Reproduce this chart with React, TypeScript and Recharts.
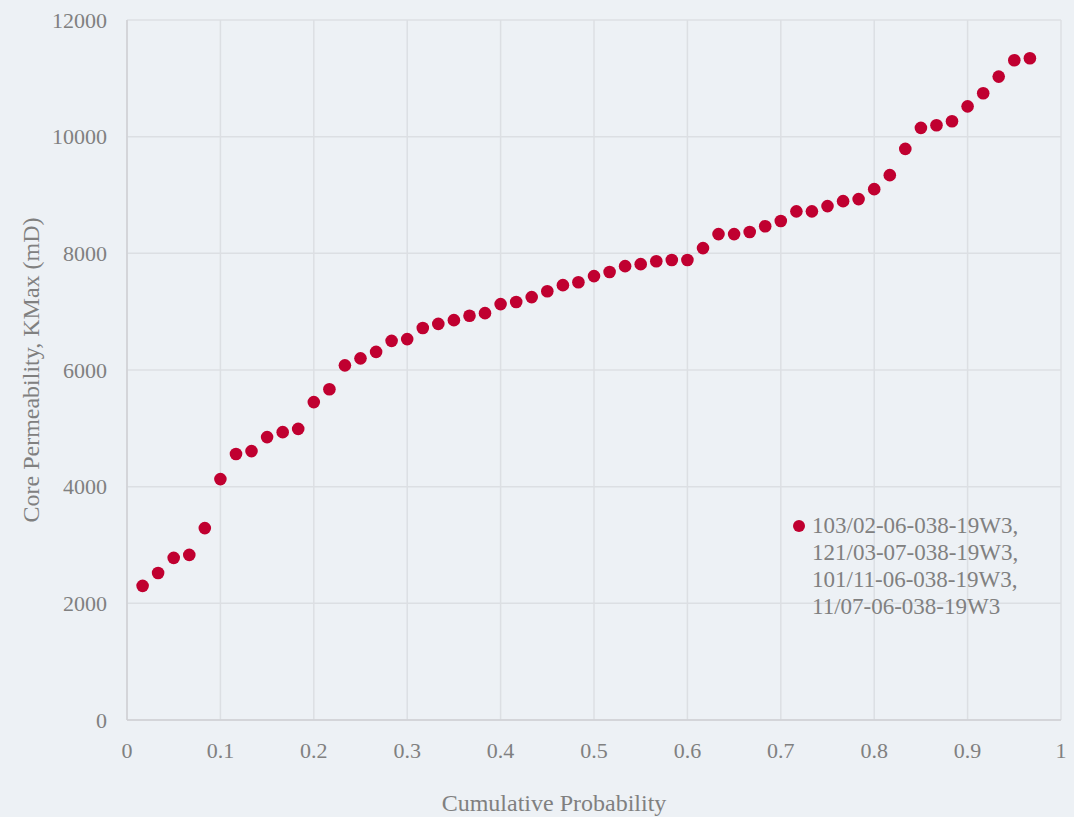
import { ScatterChart, Scatter, XAxis, YAxis, CartesianGrid, Legend } from 'recharts'

const seriesName = '103/02-06-038-19W3, 121/03-07-038-19W3, 101/11-06-038-19W3, 11/07-06-038-19W3'
const legendLines = ['103/02-06-038-19W3,', '121/03-07-038-19W3,', '101/11-06-038-19W3,', '11/07-06-038-19W3']

// cumulative probability i/60, i = 1..58
const probability = [
  0.0167, 0.0333, 0.05, 0.0667, 0.0833, 0.1, 0.1167, 0.1333, 0.15, 0.1667,
  0.1833, 0.2, 0.2167, 0.2333, 0.25, 0.2667, 0.2833, 0.3, 0.3167, 0.3333,
  0.35, 0.3667, 0.3833, 0.4, 0.4167, 0.4333, 0.45, 0.4667, 0.4833, 0.5,
  0.5167, 0.5333, 0.55, 0.5667, 0.5833, 0.6, 0.6167, 0.6333, 0.65, 0.6667,
  0.6833, 0.7, 0.7167, 0.7333, 0.75, 0.7667, 0.7833, 0.8, 0.8167, 0.8333,
  0.85, 0.8667, 0.8833, 0.9, 0.9167, 0.9333, 0.95, 0.9667,
]
const kmax = [
  2300, 2520, 2780, 2830, 3290, 4130, 4560, 4610, 4850, 4935,
  4990, 5450, 5670, 6080, 6200, 6310, 6500, 6530, 6720, 6790,
  6855, 6930, 6975, 7130, 7165, 7250, 7350, 7455, 7505, 7610,
  7680, 7780, 7815, 7865, 7885, 7885, 8090, 8330, 8330, 8365,
  8465, 8555, 8720, 8720, 8810, 8895, 8930, 9100, 9340, 9790,
  10150, 10195, 10265, 10520, 10745, 11030, 11310, 11345,
]
const xTicks = [0, 0.1, 0.2, 0.3, 0.4, 0.5, 0.6, 0.7, 0.8, 0.9, 1]
const yTicks = [0, 2000, 4000, 6000, 8000, 10000, 12000]

const points = probability.map((p, i) => ({ p, k: kmax[i] }))

const font = '"Liberation Serif", "DejaVu Serif", serif'
const textGray = '#808080'
const tickStyle = { fill: textGray, fontSize: 22, fontFamily: font }
const titleStyle = { fill: textGray, fontSize: 24, fontFamily: font }

function LegendBox() {
  return (
    <div style={{ fontFamily: font, fontSize: 23, color: textGray, lineHeight: '27px', position: 'relative', paddingLeft: 19, textAlign: 'left' }}>
      <span style={{ position: 'absolute', left: 0, top: 8, width: 12, height: 12, borderRadius: 6, background: '#c00030' }} />
      {legendLines.map((l) => (
        <div key={l}>{l}</div>
      ))}
    </div>
  )
}

export default function App() {
  return (
    <div style={{ position: 'fixed', left: 0, top: 0, width: 1074, height: 817, background: '#edf1f5' }}>
      <ScatterChart width={1074} height={817} margin={{ top: 20, right: 13, left: 0, bottom: 0 }}>
        <CartesianGrid stroke="#dcdfe3" strokeWidth={1.5} />
        <XAxis
          type="number"
          dataKey="p"
          domain={[0, 1]}
          ticks={xTicks}
          height={97}
          stroke="#cfd1d4"
          strokeWidth={1.5}
          tickLine={false}
          tickSize={12}
          tickMargin={10}
          tick={tickStyle}
          label={{ value: 'Cumulative Probability', position: 'insideBottom', offset: 6, dx: -40, style: titleStyle }}
        />
        <YAxis
          type="number"
          dataKey="k"
          domain={[0, 12000]}
          ticks={yTicks}
          width={127}
          stroke="#cfd1d4"
          strokeWidth={1.5}
          tickLine={false}
          tickSize={10}
          tickMargin={10}
          tick={tickStyle}
          label={{ value: 'Core Permeability, KMax (mD)', angle: -90, position: 'insideLeft', offset: 30, style: { ...titleStyle, textAnchor: 'middle' } }}
        />
        <Legend
          layout="vertical"
          verticalAlign="middle"
          align="center"
          wrapperStyle={{ left: 793, top: 512, width: 270 }}
          content={() => <LegendBox />}
        />
        <Scatter name={seriesName} data={points} fill="#c00030" isAnimationActive={false} shape={(props: any) => <circle cx={props.cx} cy={props.cy} r={6.3} fill="#c00030" />} />
      </ScatterChart>
    </div>
  )
}
